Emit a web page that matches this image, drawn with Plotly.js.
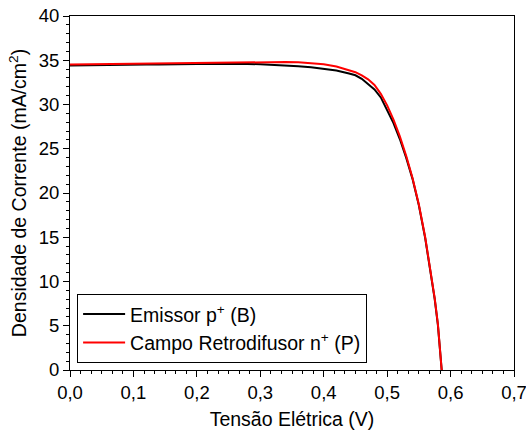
<!DOCTYPE html>
<html>
<head>
<meta charset="utf-8">
<script src="https://cdn.plot.ly/plotly-3.0.1.min.js"></script>
<style>html,body{margin:0;padding:0;background:#fff;}#chart{width:526px;height:433px;}</style>
</head>
<body>
<div id="chart"></div>
<script>
// Tensão (V) and density (mA/cm2)
const vBlack = [0.00,0.02,0.04,0.06,0.08,0.10,0.12,0.14,0.16,0.18,0.20,0.22,0.24,0.26,0.28,0.30,0.32,0.34,0.36,0.38,0.40,0.42,0.44,0.45,0.46,0.47,0.48,0.49,0.50,0.51,0.52,0.53,0.54,0.55,0.56,0.57,0.575,0.58,0.583,0.586];
const jBlack = [34.42,34.45,34.43,34.48,34.47,34.50,34.53,34.51,34.55,34.56,34.58,34.57,34.60,34.58,34.58,34.55,34.50,34.42,34.32,34.20,34.05,33.85,33.50,33.30,32.90,32.30,31.70,30.80,29.40,27.90,26.10,24.00,21.60,18.60,14.90,10.50,8.00,5.10,2.70,0.00];
const vRed = [0.00,0.02,0.04,0.06,0.08,0.10,0.12,0.14,0.16,0.18,0.20,0.22,0.24,0.26,0.28,0.30,0.32,0.34,0.36,0.38,0.40,0.42,0.44,0.45,0.46,0.47,0.48,0.49,0.50,0.51,0.52,0.53,0.54,0.55,0.56,0.57,0.575,0.58,0.583,0.586];
const jRed = [34.52,34.54,34.52,34.57,34.58,34.60,34.63,34.62,34.66,34.68,34.70,34.69,34.74,34.73,34.80,34.82,34.80,34.80,34.78,34.70,34.55,34.30,33.90,33.65,33.30,32.85,32.20,31.20,29.90,28.30,26.40,24.20,21.70,18.70,15.00,10.60,8.10,5.20,2.80,0.00];
const nameBlack = "Emissor p<sup>+</sup> (B)";
const nameRed = "Campo Retrodifusor n<sup>+</sup> (P)";
const xTicks = [0,0.1,0.2,0.3,0.4,0.5,0.6,0.7];
const yTicks = [0,5,10,15,20,25,30,35,40];

const font = "Liberation Sans, Arial, sans-serif";
const data = [
  {x: vBlack, y: jBlack, type: "scatter", mode: "lines", name: nameBlack, line: {color: "#000000", width: 2}},
  {x: vRed, y: jRed, type: "scatter", mode: "lines", name: nameRed, line: {color: "#ff0000", width: 2}}
];
const layout = {
  width: 526, height: 433,
  margin: {l: 70, r: 12, t: 16, b: 63},
  paper_bgcolor: "#fff", plot_bgcolor: "#fff",
  separators: ",.",
  font: {family: font, size: 18.5, color: "#000"},
  showlegend: true,
  legend: {x: 0.016, y: 0.02, xanchor: "left", yanchor: "bottom", bgcolor: "#fff",
           bordercolor: "#000", borderwidth: 1, font: {family: font, size: 19.5, color: "#000"},
           tracegroupgap: 0, itemwidth: 42},
  xaxis: {range: [0, 0.7], tickvals: xTicks, tickformat: ".1f", showgrid: false, zeroline: false,
          showline: true, linecolor: "#000", linewidth: 1, mirror: true,
          ticks: "outside", ticklen: 6, tickcolor: "#000", ticklabeloverflow: "allow",
          minor: {dtick: 0.1/6, ticks: "outside", ticklen: 3, tickcolor: "#000", showgrid: false},
          tickfont: {size: 18.5},
          title: {text: "Tensão Elétrica (V)", font: {size: 19.5}, standoff: 10}},
  yaxis: {range: [0, 40], tickvals: yTicks, showgrid: false, zeroline: false,
          showline: true, linecolor: "#000", linewidth: 1, mirror: true,
          ticks: "outside", ticklen: 6, tickcolor: "#000", ticklabeloverflow: "allow",
          minor: {dtick: 1, ticks: "outside", ticklen: 3, tickcolor: "#000", showgrid: false},
          tickfont: {size: 18.5},
          title: {text: "Densidade de Corrente (mA/cm<sup>2</sup>)", font: {size: 19.5}, standoff: 6}}
};
Plotly.newPlot("chart", data, layout, {displayModeBar: false, staticPlot: true});
</script>
</body>
</html>
